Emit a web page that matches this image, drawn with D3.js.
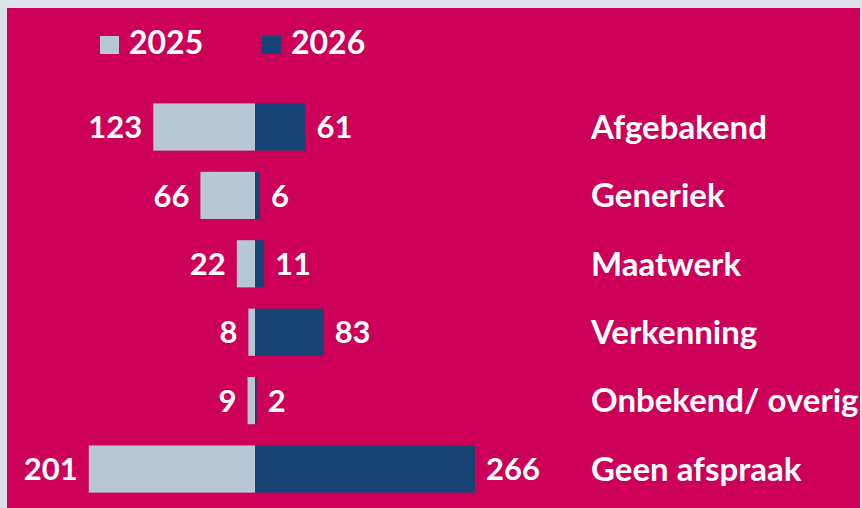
<!DOCTYPE html>
<html><head><meta charset="utf-8">
<script src="https://cdn.jsdelivr.net/npm/d3@7"></script>
<style>html,body{margin:0;padding:0;background:#dbe3ea;overflow:hidden}</style>
</head><body>
<script>
const categories = ["Afgebakend","Generiek","Maatwerk","Verkenning","Onbekend/ overig","Geen afspraak"];
const values2025 = [123,66,22,8,9,201];
const values2026 = [61,6,11,83,2,266];
const seriesNames = ["2025","2026"];

const W=862,H=508;
const colors={bg:"#cc0058",light:"#b8c7d6",dark:"#174375",text:"#ffffff"};
const font="Lato, 'Open Sans', sans-serif";
const svg=d3.select("body").append("svg").attr("width",W).attr("height",H);
svg.append("rect").attr("x",7).attr("y",8).attr("width",853).attr("height",H-8).attr("fill",colors.bg);

const cx=255;
const len=d3.scaleLinear().domain([0,100]).range([0,82.7]);
const y=d3.scaleBand().domain(categories).range([92.8,503.2]).paddingInner(0.31).paddingOuter(0.155);

const g=svg.append("g");
const rows=g.selectAll("g.row").data(categories.map((c,i)=>({c,a:values2025[i],b:values2026[i]}))).join("g");
rows.append("rect").attr("x",d=>cx-len(d.a)).attr("y",d=>y(d.c)).attr("width",d=>len(d.a)).attr("height",y.bandwidth()).attr("fill",colors.light);
rows.append("rect").attr("x",cx).attr("y",d=>y(d.c)).attr("width",d=>len(d.b)).attr("height",y.bandwidth()).attr("fill",colors.dark);
const ts={"font-family":font,"font-weight":"bold","font-size":"31px",fill:colors.text};
function st(sel){for(const k in ts) sel.attr(k,ts[k]); return sel;}
st(rows.append("text")).attr("x",d=>cx-len(d.a)-11).attr("y",d=>y(d.c)+y.bandwidth()/2).attr("dy","0.36em").attr("text-anchor","end").text(d=>d.a);
st(rows.append("text")).attr("x",d=>cx+len(d.b)+11).attr("y",d=>y(d.c)+y.bandwidth()/2).attr("dy","0.36em").text(d=>d.b);
st(rows.append("text")).attr("x",591).attr("y",d=>y(d.c)+y.bandwidth()/2).attr("dy","0.36em").attr("font-size","33px").text(d=>d.c);

// legend
const leg=svg.append("g");
const lx=[100,262];
seriesNames.forEach((s,i)=>{
  leg.append("rect").attr("x",lx[i]).attr("y",36).attr("width",19).attr("height",18).attr("fill",i?colors.dark:colors.light);
  st(leg.append("text")).attr("x",lx[i]+29).attr("y",54).attr("font-size","32px").text(s);
});
</script>
</body></html>
